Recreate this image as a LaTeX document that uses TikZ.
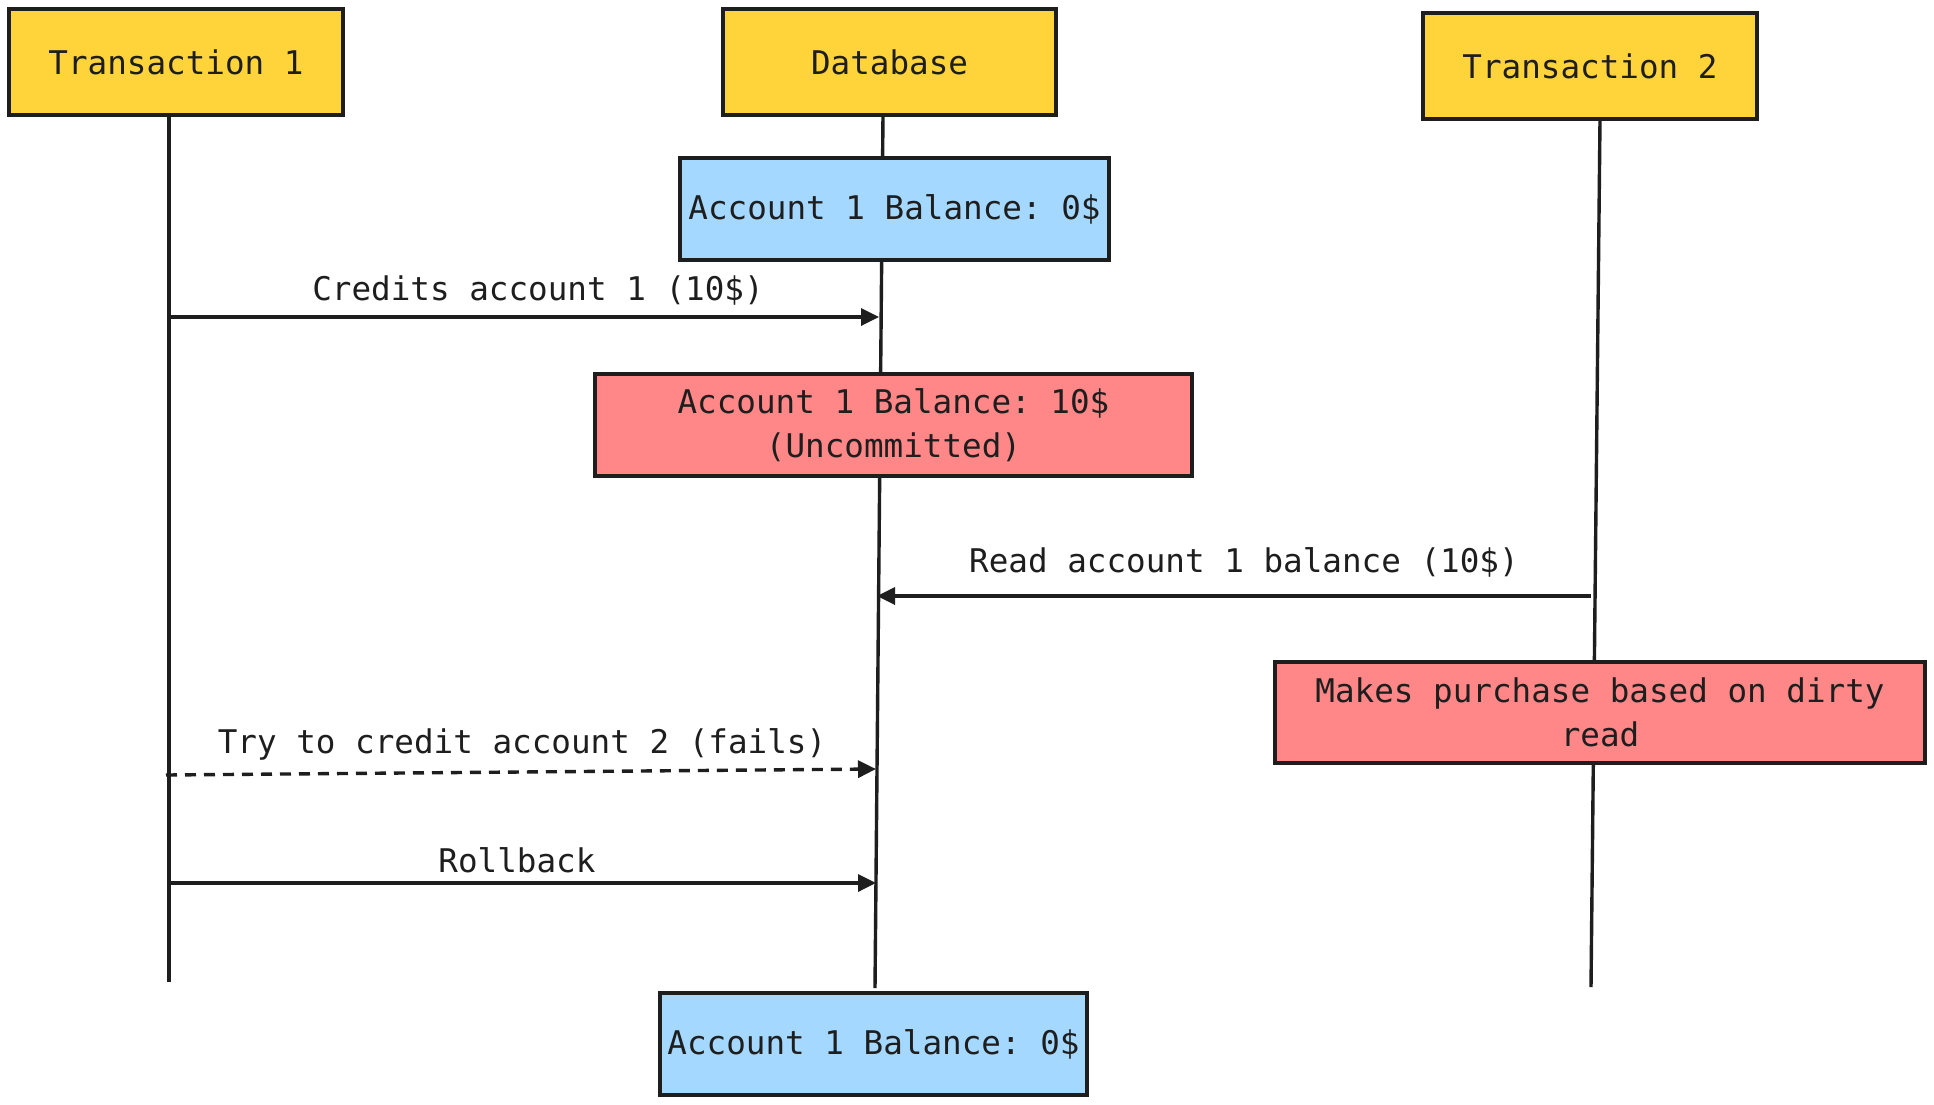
\documentclass[tikz,border=0pt]{standalone}
\usepackage{fontspec}
\setmonofont{DejaVu Sans Mono}
\usetikzlibrary{arrows.meta}
\pgfdeclarelayer{background}
\pgfsetlayers{background,main}
\definecolor{ink}{HTML}{1E1E1E}
\definecolor{yel}{HTML}{FFD43B}
\definecolor{blu}{HTML}{A5D8FF}
\definecolor{rd}{HTML}{FF8787}
\tikzset{
  txt/.style={font=\ttfamily\fontsize{16.3}{22}\selectfont, text=ink},
  box/.style={txt, draw=ink, line width=1.7pt, inner sep=0pt, align=center},
  actor/.style={box, fill=yel, minimum width=167pt, minimum height=53pt},
  bluebox/.style={box, fill=blu, minimum height=51pt},
  redbox/.style={box, fill=rd, minimum height=51pt},
  life/.style={draw=ink, line width=1.7pt},
  msg/.style={draw=ink, line width=1.7pt, -{Triangle[length=9pt,width=8.5pt]}},
  dmsg/.style={msg, dash pattern=on 5.5pt off 4pt},
  lbl/.style={txt, inner sep=0pt, anchor=base}
}
\begin{document}
\begin{tikzpicture}[x=0.5pt,y=-0.5pt]
\useasboundingbox (0,0) rectangle (1934,1104);

% actors
\node[actor] (t1) at (176,62) {Transaction 1};
\node[actor, minimum width=166.5pt] (db) at (889.5,62) {Database};
\node[actor] (t2) at (1590,66) {Transaction 2};

% state boxes
\node[bluebox, minimum width=214.5pt] (bal0) at (894.5,209) {Account 1 Balance: 0\$};
\node[redbox, minimum width=298.5pt] (bal10) at (893.5,425) {Account 1 Balance: 10\$\\(Uncommitted)};
\node[redbox, minimum width=325pt, minimum height=50.5pt] (dirty) at (1600,712.5) {Makes purchase based on dirty\\read};
\node[bluebox, minimum width=213.5pt] (balend) at (873.5,1044) {Account 1 Balance: 0\$};

% lifeline end points
\coordinate (t1top) at (169,115);
\coordinate (t1bot) at (169,982);
\coordinate (dbtop) at (883,115);
\coordinate (dbbot) at (875,988);
\coordinate (t2top) at (1600,120);
\coordinate (t2bot) at (1591,987);

\begin{pgfonlayer}{background}
\fill[white] (0,0) rectangle (1934,1104);
\draw[life] (t1top) -- (t1bot);
\draw[life] (dbtop) -- (dbbot);
\draw[life] (t2top) -- (t2bot);
\end{pgfonlayer}

% message end points
\coordinate (t1a) at (169,317);
\coordinate (dba) at (879,317);
\coordinate (t2r) at (1591,596);
\coordinate (dbr) at (877,596);
\coordinate (t1t) at (166,775);
\coordinate (dbt) at (876,769);
\coordinate (t1r) at (169,883);
\coordinate (dbb) at (876,883);

\draw[msg] (t1a) -- (dba);
\draw[msg] (t2r) -- (dbr);
\draw[dmsg] (t1t) -- (dbt);
\draw[msg] (t1r) -- (dbb);

% labels
\node[lbl] (lcredit) at (538,300) {Credits account 1 (10\$)};
\node[lbl] (lread) at (1244,572) {Read account 1 balance (10\$)};
\node[lbl] (ltry) at (522,753) {Try to credit account 2 (fails)};
\node[lbl] (lroll) at (517,872) {Rollback};
\end{tikzpicture}
\end{document}
